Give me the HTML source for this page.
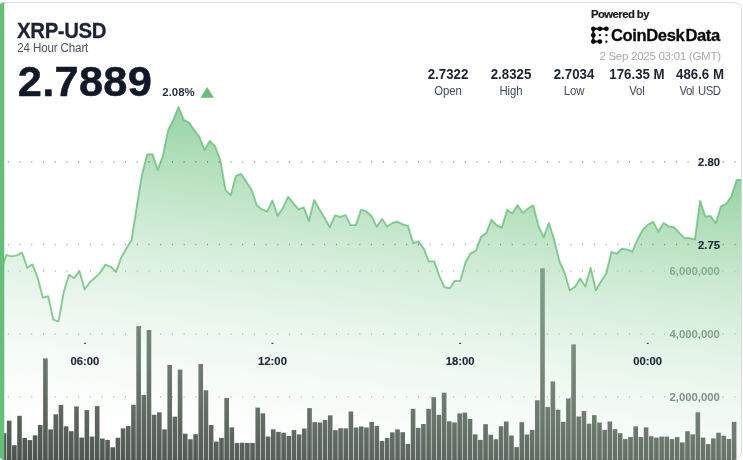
<!DOCTYPE html>
<html><head><meta charset="utf-8"><title>XRP-USD 24 Hour Chart</title>
<style>
html,body{margin:0;padding:0;background:#fff;}
body{width:743px;height:460px;overflow:hidden;position:relative;font-family:"Liberation Sans",sans-serif;color:#1c2333;}
svg{position:absolute;left:0;top:0;}
.pg{stroke:#000;stroke-opacity:0.38;stroke-width:1.7;stroke-dasharray:1 10.72;}
.vg{stroke:#b4bdb6;stroke-width:1.8;stroke-dasharray:1 10.72;}
.vlt{font-family:"Liberation Sans",sans-serif;font-size:11.3px;font-weight:700;fill:#57635b;}
.t{position:absolute;white-space:nowrap;line-height:1;transform-origin:0 0;}
#sym{left:17px;top:21px;font-size:20.4px;font-weight:700;letter-spacing:-0.4px;-webkit-text-stroke:0.25px #1c2333;transform:translate(0.1px,-1.6px) scale(1,1.085) rotate(0.001deg);}
#sub{left:17px;top:42px;font-size:11.6px;letter-spacing:-0.15px;color:#4a5160;transform:translate(0.3px,-0.6px) scale(1,1.07) rotate(0.001deg);}
#price{left:17px;top:60px;font-size:43.4px;letter-spacing:0.3px;font-weight:700;color:#111828;-webkit-text-stroke:0.5px #111828;transform:translate(0.7px,-0.15px) rotate(0.001deg);}
#chg{left:162.3px;top:87.2px;font-size:11.4px;font-weight:700;color:#2a3142;}
#pw{left:590.5px;top:9px;font-size:11.3px;font-weight:700;color:#1a1a1a;letter-spacing:-0.55px;-webkit-text-stroke:0.2px #1a1a1a;transform:translate(0,0.4px) scale(1,0.97) rotate(0.001deg);}
#cd{left:611px;top:27.8px;font-size:16.6px;font-weight:700;color:#0a0a0a;letter-spacing:-0.4px;word-spacing:-3.1px;-webkit-text-stroke:0.3px #0a0a0a;}
#dt{right:22.3px;top:51.4px;font-size:11.5px;letter-spacing:-0.27px;color:#a9a9a9;}
.st{position:absolute;top:67px;width:80px;text-align:center;white-space:nowrap;}
.sv{font-size:13.25px;font-weight:700;line-height:14px;color:#1c2333;transform-origin:50% 0;transform:translateY(0.75px) scale(1,1.04) rotate(0.001deg);}
.sl{font-size:11.4px;letter-spacing:-0.12px;line-height:14px;margin-top:2.1px;color:#434b5b;transform-origin:50% 0;transform:translateY(0.3px) scale(1,1.05) rotate(0.001deg);}
.xl{position:absolute;top:355px;width:40px;text-align:center;font-size:11.3px;font-weight:700;line-height:12px;color:#1f2737;-webkit-text-stroke:0.15px #1f2737;}
.pl{position:absolute;right:23px;font-size:11.3px;font-weight:700;line-height:14px;color:#1f2737;-webkit-text-stroke:0.15px #1f2737;transform:translateY(0.3px) rotate(0.001deg);}
</style></head>
<body>
<svg width="743" height="460" viewBox="0 0 743 460">
<defs>
<linearGradient id="ag" gradientUnits="userSpaceOnUse" x1="743.0" y1="99.9" x2="687.2" y2="545.9">
<stop offset="0" stop-color="#66bf79" stop-opacity="1"/><stop offset="1" stop-color="#ffffff" stop-opacity="0"/>
</linearGradient>
<clipPath id="cp"><rect x="-2.6" y="2" width="744.6" height="458" rx="8" ry="8"/></clipPath>
<clipPath id="cc"><rect x="0" y="0" width="741.1" height="460"/></clipPath>
</defs>
<g clip-path="url(#cp)">
<rect x="-2.1" y="2.5" width="743.6" height="457" rx="7.5" ry="7.5" fill="#fff" stroke="#dcdcdc" stroke-width="1"/>
<g clip-path="url(#cc)">
<text class="vlt" x="719.8" y="275.2" text-anchor="end">6,000,000</text><text class="vlt" x="719.8" y="338.0" text-anchor="end">4,000,000</text><text class="vlt" x="719.8" y="400.9" text-anchor="end">2,000,000</text>
<line class="vg" x1="7.8" x2="741" y1="271.2" y2="271.2"/><line class="vg" x1="7.8" x2="741" y1="334.0" y2="334.0"/><line class="vg" x1="7.8" x2="741" y1="396.9" y2="396.9"/>
<g fill="#49534b"><rect x="1.70" y="433.22" width="4.6" height="30.78"/><rect x="6.88" y="420.66" width="4.6" height="43.34"/><rect x="12.06" y="445.27" width="4.6" height="18.73"/><rect x="17.23" y="415.81" width="4.6" height="48.19"/><rect x="22.41" y="437.90" width="4.6" height="26.10"/><rect x="27.59" y="440.08" width="4.6" height="23.92"/><rect x="32.77" y="435.39" width="4.6" height="28.61"/><rect x="37.95" y="425.02" width="4.6" height="38.98"/><rect x="43.12" y="358.40" width="4.6" height="105.60"/><rect x="48.30" y="429.37" width="4.6" height="34.63"/><rect x="53.48" y="414.30" width="4.6" height="49.70"/><rect x="58.66" y="404.93" width="4.6" height="59.07"/><rect x="63.84" y="426.35" width="4.6" height="37.65"/><rect x="69.01" y="431.21" width="4.6" height="32.79"/><rect x="74.19" y="406.43" width="4.6" height="57.57"/><rect x="79.37" y="437.57" width="4.6" height="26.43"/><rect x="84.55" y="410.12" width="4.6" height="53.88"/><rect x="89.73" y="436.57" width="4.6" height="27.43"/><rect x="94.90" y="406.10" width="4.6" height="57.90"/><rect x="100.08" y="438.57" width="4.6" height="25.43"/><rect x="105.26" y="439.91" width="4.6" height="24.09"/><rect x="110.44" y="447.28" width="4.6" height="16.72"/><rect x="115.62" y="437.74" width="4.6" height="26.26"/><rect x="120.79" y="428.36" width="4.6" height="35.64"/><rect x="125.97" y="426.02" width="4.6" height="37.98"/><rect x="131.15" y="404.76" width="4.6" height="59.24"/><rect x="136.33" y="326.10" width="4.6" height="137.90"/><rect x="141.51" y="395.05" width="4.6" height="68.95"/><rect x="146.68" y="330.00" width="4.6" height="134.00"/><rect x="151.86" y="414.80" width="4.6" height="49.20"/><rect x="157.04" y="412.29" width="4.6" height="51.71"/><rect x="162.22" y="429.37" width="4.6" height="34.63"/><rect x="167.40" y="364.90" width="4.6" height="99.10"/><rect x="172.57" y="416.65" width="4.6" height="47.35"/><rect x="177.75" y="369.60" width="4.6" height="94.40"/><rect x="182.93" y="433.72" width="4.6" height="30.28"/><rect x="188.11" y="439.24" width="4.6" height="24.76"/><rect x="193.29" y="434.22" width="4.6" height="29.78"/><rect x="198.46" y="364.00" width="4.6" height="100.00"/><rect x="203.64" y="390.37" width="4.6" height="73.63"/><rect x="208.82" y="425.02" width="4.6" height="38.98"/><rect x="214.00" y="441.59" width="4.6" height="22.41"/><rect x="219.18" y="437.90" width="4.6" height="26.10"/><rect x="224.35" y="398.07" width="4.6" height="65.93"/><rect x="229.53" y="427.36" width="4.6" height="36.64"/><rect x="234.71" y="443.09" width="4.6" height="20.91"/><rect x="239.89" y="442.76" width="4.6" height="21.24"/><rect x="245.07" y="442.93" width="4.6" height="21.07"/><rect x="250.24" y="442.93" width="4.6" height="21.07"/><rect x="255.42" y="407.61" width="4.6" height="56.39"/><rect x="260.60" y="413.30" width="4.6" height="50.70"/><rect x="265.78" y="436.57" width="4.6" height="27.43"/><rect x="270.96" y="429.37" width="4.6" height="34.63"/><rect x="276.13" y="431.88" width="4.6" height="32.12"/><rect x="281.31" y="432.72" width="4.6" height="31.28"/><rect x="286.49" y="435.90" width="4.6" height="28.10"/><rect x="291.67" y="430.04" width="4.6" height="33.96"/><rect x="296.85" y="434.39" width="4.6" height="29.61"/><rect x="302.02" y="428.53" width="4.6" height="35.47"/><rect x="307.20" y="408.11" width="4.6" height="55.89"/><rect x="312.38" y="422.17" width="4.6" height="41.83"/><rect x="317.56" y="422.50" width="4.6" height="41.50"/><rect x="322.74" y="419.99" width="4.6" height="44.01"/><rect x="327.91" y="415.31" width="4.6" height="48.69"/><rect x="333.09" y="430.20" width="4.6" height="33.80"/><rect x="338.27" y="428.20" width="4.6" height="35.80"/><rect x="343.45" y="428.36" width="4.6" height="35.64"/><rect x="348.63" y="411.46" width="4.6" height="52.54"/><rect x="353.80" y="427.53" width="4.6" height="36.47"/><rect x="358.98" y="426.52" width="4.6" height="37.48"/><rect x="364.16" y="427.53" width="4.6" height="36.47"/><rect x="369.34" y="422.00" width="4.6" height="42.00"/><rect x="374.52" y="425.85" width="4.6" height="38.15"/><rect x="379.69" y="440.92" width="4.6" height="23.08"/><rect x="384.87" y="438.07" width="4.6" height="25.93"/><rect x="390.05" y="432.38" width="4.6" height="31.62"/><rect x="395.23" y="429.37" width="4.6" height="34.63"/><rect x="400.41" y="432.21" width="4.6" height="31.79"/><rect x="405.58" y="443.93" width="4.6" height="20.07"/><rect x="410.76" y="408.78" width="4.6" height="55.22"/><rect x="415.94" y="427.86" width="4.6" height="36.14"/><rect x="421.12" y="424.01" width="4.6" height="39.99"/><rect x="426.30" y="408.78" width="4.6" height="55.22"/><rect x="431.47" y="397.23" width="4.6" height="66.77"/><rect x="436.65" y="414.80" width="4.6" height="49.20"/><rect x="441.83" y="392.71" width="4.6" height="71.29"/><rect x="447.01" y="421.33" width="4.6" height="42.67"/><rect x="452.19" y="422.50" width="4.6" height="41.50"/><rect x="457.36" y="413.47" width="4.6" height="50.53"/><rect x="462.54" y="412.63" width="4.6" height="51.37"/><rect x="467.72" y="418.82" width="4.6" height="45.18"/><rect x="472.90" y="434.39" width="4.6" height="29.61"/><rect x="478.08" y="439.91" width="4.6" height="24.09"/><rect x="483.25" y="424.18" width="4.6" height="39.82"/><rect x="488.43" y="434.72" width="4.6" height="29.28"/><rect x="493.61" y="439.24" width="4.6" height="24.76"/><rect x="498.79" y="426.19" width="4.6" height="37.81"/><rect x="503.97" y="421.50" width="4.6" height="42.50"/><rect x="509.14" y="435.56" width="4.6" height="28.44"/><rect x="514.32" y="447.11" width="4.6" height="16.89"/><rect x="519.50" y="422.17" width="4.6" height="41.83"/><rect x="524.68" y="434.56" width="4.6" height="29.44"/><rect x="529.86" y="429.87" width="4.6" height="34.13"/><rect x="535.03" y="400.24" width="4.6" height="63.76"/><rect x="540.21" y="268.30" width="4.6" height="195.70"/><rect x="545.39" y="407.10" width="4.6" height="56.90"/><rect x="550.57" y="381.40" width="4.6" height="82.60"/><rect x="555.75" y="409.62" width="4.6" height="54.38"/><rect x="560.92" y="421.83" width="4.6" height="42.17"/><rect x="566.10" y="398.40" width="4.6" height="65.60"/><rect x="571.28" y="344.40" width="4.6" height="119.60"/><rect x="576.46" y="416.48" width="4.6" height="47.52"/><rect x="581.64" y="411.12" width="4.6" height="52.88"/><rect x="586.81" y="423.68" width="4.6" height="40.32"/><rect x="591.99" y="415.14" width="4.6" height="48.86"/><rect x="597.17" y="422.50" width="4.6" height="41.50"/><rect x="602.35" y="429.87" width="4.6" height="34.13"/><rect x="607.53" y="421.50" width="4.6" height="42.50"/><rect x="612.70" y="429.20" width="4.6" height="34.80"/><rect x="617.88" y="433.22" width="4.6" height="30.78"/><rect x="623.06" y="439.08" width="4.6" height="24.92"/><rect x="628.24" y="437.07" width="4.6" height="26.93"/><rect x="633.42" y="426.35" width="4.6" height="37.65"/><rect x="638.59" y="437.07" width="4.6" height="26.93"/><rect x="643.77" y="427.36" width="4.6" height="36.64"/><rect x="648.95" y="436.23" width="4.6" height="27.77"/><rect x="654.13" y="437.57" width="4.6" height="26.43"/><rect x="659.31" y="436.57" width="4.6" height="27.43"/><rect x="664.48" y="436.57" width="4.6" height="27.43"/><rect x="669.66" y="439.08" width="4.6" height="24.92"/><rect x="674.84" y="437.07" width="4.6" height="26.93"/><rect x="680.02" y="442.42" width="4.6" height="21.58"/><rect x="685.20" y="431.21" width="4.6" height="32.79"/><rect x="690.37" y="434.39" width="4.6" height="29.61"/><rect x="695.55" y="412.29" width="4.6" height="51.71"/><rect x="700.73" y="437.57" width="4.6" height="26.43"/><rect x="705.91" y="444.10" width="4.6" height="19.90"/><rect x="711.09" y="438.41" width="4.6" height="25.59"/><rect x="716.26" y="432.72" width="4.6" height="31.28"/><rect x="721.44" y="435.70" width="4.6" height="28.30"/><rect x="726.62" y="438.91" width="4.6" height="25.09"/><rect x="731.80" y="421.83" width="4.6" height="42.17"/></g>
<path d="M1.19,270.00 L6.41,255.00 L11.62,256.40 L16.84,255.40 L22.05,252.70 L27.27,267.80 L32.49,264.40 L37.70,278.10 L42.92,297.70 L48.13,296.20 L53.35,319.60 L58.57,321.30 L63.78,291.90 L69.00,274.80 L74.21,278.10 L79.43,271.10 L84.65,289.50 L89.86,282.30 L95.08,277.80 L100.29,272.30 L105.51,264.60 L110.73,266.80 L115.94,271.80 L121.16,257.90 L126.37,248.20 L131.59,240.20 L136.81,206.50 L142.02,174.30 L147.24,154.50 L152.45,154.10 L157.67,169.90 L162.89,156.20 L168.10,130.10 L173.32,119.80 L178.53,107.00 L183.75,119.80 L188.97,122.60 L194.18,130.10 L199.40,136.80 L204.61,149.90 L209.83,141.00 L215.05,146.50 L220.26,159.80 L225.48,189.80 L230.69,195.20 L235.91,175.90 L241.13,173.90 L246.34,181.80 L251.56,189.80 L256.77,205.20 L261.99,209.40 L267.21,211.60 L272.42,200.50 L277.64,215.60 L282.85,208.20 L288.07,196.80 L293.29,203.20 L298.50,209.40 L303.72,207.40 L308.93,221.10 L314.15,199.90 L319.37,208.90 L324.58,217.90 L329.80,227.40 L335.01,215.40 L340.23,216.80 L345.45,215.10 L350.66,225.10 L355.88,225.10 L361.09,209.70 L366.31,211.70 L371.53,215.90 L376.74,226.80 L381.96,218.90 L387.17,226.50 L392.39,223.00 L397.61,221.80 L402.82,224.30 L408.04,226.00 L413.25,243.20 L418.47,241.50 L423.69,248.60 L428.90,261.30 L434.12,261.40 L439.33,276.10 L444.55,287.30 L449.77,288.30 L454.98,280.60 L460.20,281.10 L465.41,262.70 L470.63,253.30 L475.85,250.80 L481.06,236.80 L486.28,233.10 L491.49,219.80 L496.71,225.30 L501.93,227.60 L507.14,209.80 L512.36,213.50 L517.57,205.10 L522.79,213.10 L528.01,208.50 L533.22,205.40 L538.44,226.00 L543.65,237.30 L548.87,223.00 L554.09,239.50 L559.30,261.00 L564.52,272.70 L569.73,290.30 L574.95,286.90 L580.17,278.60 L585.38,286.60 L590.60,267.70 L595.81,290.30 L601.03,281.60 L606.25,273.50 L611.46,251.80 L616.68,253.80 L621.89,248.80 L627.11,249.60 L632.33,251.70 L637.54,239.50 L642.76,229.70 L647.97,224.60 L653.19,221.90 L658.41,231.60 L663.62,223.00 L668.84,226.60 L674.05,227.20 L679.27,232.80 L684.49,238.10 L689.70,238.10 L694.92,239.40 L700.13,200.90 L705.35,216.80 L710.57,216.00 L715.78,223.20 L721.00,206.30 L726.21,203.80 L731.43,196.40 L736.65,180.00 L741.86,180.00 L741.86,464 L1.19,464 Z" fill="url(#ag)"/>
<line class="pg" x1="7.8" x2="741" y1="161.9" y2="161.9"/><line class="pg" x1="7.8" x2="741" y1="244.5" y2="244.5"/>
<path d="M1.19,270.00 L6.41,255.00 L11.62,256.40 L16.84,255.40 L22.05,252.70 L27.27,267.80 L32.49,264.40 L37.70,278.10 L42.92,297.70 L48.13,296.20 L53.35,319.60 L58.57,321.30 L63.78,291.90 L69.00,274.80 L74.21,278.10 L79.43,271.10 L84.65,289.50 L89.86,282.30 L95.08,277.80 L100.29,272.30 L105.51,264.60 L110.73,266.80 L115.94,271.80 L121.16,257.90 L126.37,248.20 L131.59,240.20 L136.81,206.50 L142.02,174.30 L147.24,154.50 L152.45,154.10 L157.67,169.90 L162.89,156.20 L168.10,130.10 L173.32,119.80 L178.53,107.00 L183.75,119.80 L188.97,122.60 L194.18,130.10 L199.40,136.80 L204.61,149.90 L209.83,141.00 L215.05,146.50 L220.26,159.80 L225.48,189.80 L230.69,195.20 L235.91,175.90 L241.13,173.90 L246.34,181.80 L251.56,189.80 L256.77,205.20 L261.99,209.40 L267.21,211.60 L272.42,200.50 L277.64,215.60 L282.85,208.20 L288.07,196.80 L293.29,203.20 L298.50,209.40 L303.72,207.40 L308.93,221.10 L314.15,199.90 L319.37,208.90 L324.58,217.90 L329.80,227.40 L335.01,215.40 L340.23,216.80 L345.45,215.10 L350.66,225.10 L355.88,225.10 L361.09,209.70 L366.31,211.70 L371.53,215.90 L376.74,226.80 L381.96,218.90 L387.17,226.50 L392.39,223.00 L397.61,221.80 L402.82,224.30 L408.04,226.00 L413.25,243.20 L418.47,241.50 L423.69,248.60 L428.90,261.30 L434.12,261.40 L439.33,276.10 L444.55,287.30 L449.77,288.30 L454.98,280.60 L460.20,281.10 L465.41,262.70 L470.63,253.30 L475.85,250.80 L481.06,236.80 L486.28,233.10 L491.49,219.80 L496.71,225.30 L501.93,227.60 L507.14,209.80 L512.36,213.50 L517.57,205.10 L522.79,213.10 L528.01,208.50 L533.22,205.40 L538.44,226.00 L543.65,237.30 L548.87,223.00 L554.09,239.50 L559.30,261.00 L564.52,272.70 L569.73,290.30 L574.95,286.90 L580.17,278.60 L585.38,286.60 L590.60,267.70 L595.81,290.30 L601.03,281.60 L606.25,273.50 L611.46,251.80 L616.68,253.80 L621.89,248.80 L627.11,249.60 L632.33,251.70 L637.54,239.50 L642.76,229.70 L647.97,224.60 L653.19,221.90 L658.41,231.60 L663.62,223.00 L668.84,226.60 L674.05,227.20 L679.27,232.80 L684.49,238.10 L689.70,238.10 L694.92,239.40 L700.13,200.90 L705.35,216.80 L710.57,216.00 L715.78,223.20 L721.00,206.30 L726.21,203.80 L731.43,196.40 L736.65,180.00 L741.86,180.00" fill="none" stroke="#66bf79" stroke-opacity="0.8" stroke-width="1.9" stroke-linejoin="round" stroke-linecap="round"/>
</g>
<rect x="-3" y="2" width="7.3" height="460" fill="#66bf79"/>
<rect x="83.9" y="342.8" width="2" height="1" fill="#1f2737"/><rect x="271.5" y="342.8" width="2" height="1" fill="#1f2737"/><rect x="459.1" y="342.8" width="2" height="1" fill="#1f2737"/><rect x="646.7" y="342.8" width="2" height="1" fill="#1f2737"/>
<polygon points="200.5,97.8 213.9,97.8 207.2,87.1" fill="#66bf79"/>
<g id="logo" fill="#0a0a0a" stroke="#0a0a0a">
<path d="M606.4,28.8 L593.3,28.8 L593.3,41.6 L599.9,41.6" fill="none" stroke-width="2.0" stroke-linecap="round" stroke-linejoin="round"/>
<g stroke="none"><circle cx="593.3" cy="28.8" r="2.35"/><circle cx="599.9" cy="28.8" r="2.35"/><circle cx="606.4" cy="28.8" r="2.35"/>
<circle cx="593.3" cy="35.2" r="2.35"/><circle cx="593.3" cy="41.6" r="2.35"/><circle cx="599.9" cy="41.6" r="2.35"/>
<circle cx="599.9" cy="35.2" r="1.15"/><circle cx="606.4" cy="35.2" r="1.15"/><circle cx="606.4" cy="41.7" r="1.15"/></g>
</g>
</g>
</svg>
<div class="t" id="sym">XRP-USD</div>
<div class="t" id="sub">24 Hour Chart</div>
<div class="t" id="price">2.7889</div>
<div class="t" id="chg">2.08%</div>
<div class="t" id="pw">Powered by</div>
<div class="t" id="cd">CoinDesk Data</div>
<div class="t" id="dt">2 Sep 2025 03:01 (GMT)</div>
<div class="st" style="left:407.8px"><div class="sv">2.7322</div><div class="sl">Open</div></div><div class="st" style="left:470.7px"><div class="sv">2.8325</div><div class="sl">High</div></div><div class="st" style="left:533.5px"><div class="sv">2.7034</div><div class="sl">Low</div></div><div class="st" style="left:596.7px"><div class="sv">176.35 M</div><div class="sl">Vol</div></div><div class="st" style="left:659.9px"><div class="sv">486.6 M</div><div class="sl" style="letter-spacing:-0.55px;word-spacing:1.6px">Vol USD</div></div>
<div class="xl" style="left:64.9px">06:00</div><div class="xl" style="left:252.5px">12:00</div><div class="xl" style="left:440.1px">18:00</div><div class="xl" style="left:627.7px">00:00</div><div class="pl" style="top:154.9px">2.80</div><div class="pl" style="top:237.5px">2.75</div>
</body></html>
